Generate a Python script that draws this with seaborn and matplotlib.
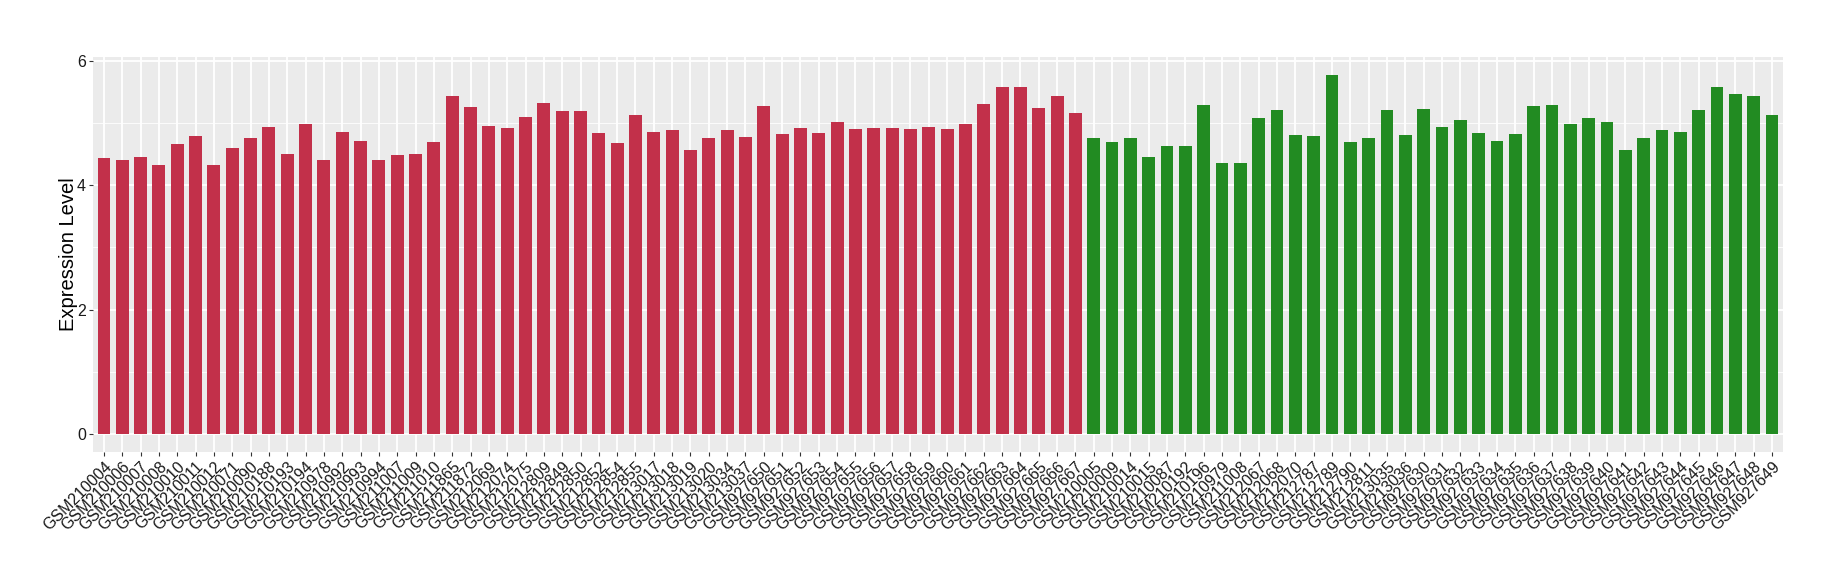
import numpy as np
import pandas as pd
import matplotlib
matplotlib.use("Agg")
import matplotlib.pyplot as plt
import seaborn as sns

# DATA
red_samples = [
    "GSM210004", "GSM210006", "GSM210007", "GSM210008", "GSM210010", "GSM210011",
    "GSM210012", "GSM210071", "GSM210090", "GSM210188", "GSM210193", "GSM210194",
    "GSM210978", "GSM210992", "GSM210993", "GSM210994", "GSM211007", "GSM211009",
    "GSM211010", "GSM211865", "GSM211872", "GSM212069", "GSM212074", "GSM212075",
    "GSM212809", "GSM212849", "GSM212850", "GSM212852", "GSM212854", "GSM212855",
    "GSM213017", "GSM213018", "GSM213019", "GSM213020", "GSM213034", "GSM213037",
    "GSM927650", "GSM927651", "GSM927652", "GSM927653", "GSM927654", "GSM927655",
    "GSM927656", "GSM927657", "GSM927658", "GSM927659", "GSM927660", "GSM927661",
    "GSM927662", "GSM927663", "GSM927664", "GSM927665", "GSM927666", "GSM927667",
]
red_values = [
    4.44, 4.41, 4.46, 4.33, 4.66, 4.79, 4.33, 4.60, 4.75, 4.94, 4.50, 4.99,
    4.41, 4.86, 4.71, 4.41, 4.49, 4.50, 4.69, 5.44, 5.26, 4.95, 4.92, 5.10,
    5.32, 5.20, 5.20, 4.84, 4.68, 5.13, 4.86, 4.89, 4.57, 4.75, 4.89, 4.78,
    5.28, 4.83, 4.92, 4.84, 5.02, 4.91, 4.92, 4.92, 4.91, 4.94, 4.91, 4.99,
    5.31, 5.58, 5.58, 5.24, 5.44, 5.16,
]
green_samples = [
    "GSM210005", "GSM210009", "GSM210014", "GSM210015", "GSM210087", "GSM210192",
    "GSM210196", "GSM210979", "GSM211008", "GSM212067", "GSM212068", "GSM212070",
    "GSM212787", "GSM212789", "GSM212790", "GSM212811", "GSM213035", "GSM213036",
    "GSM927630", "GSM927631", "GSM927632", "GSM927633", "GSM927634", "GSM927635",
    "GSM927636", "GSM927637", "GSM927638", "GSM927639", "GSM927640", "GSM927641",
    "GSM927642", "GSM927643", "GSM927644", "GSM927645", "GSM927646", "GSM927647",
    "GSM927648", "GSM927649",
]
green_values = [
    4.75, 4.70, 4.75, 4.46, 4.63, 4.63, 5.29, 4.36, 4.36, 5.08, 5.21, 4.81,
    4.79, 5.77, 4.70, 4.75, 5.21, 4.81, 5.22, 4.94, 5.04, 4.84, 4.71, 4.83,
    5.28, 5.29, 4.99, 5.08, 5.02, 4.57, 4.76, 4.88, 4.86, 5.21, 5.58, 5.47,
    5.44, 5.13,
]
y_ticks = [0, 2, 4, 6]

df = pd.DataFrame({
    "sample": red_samples + green_samples,
    "value": red_values + green_values,
    "group": ["A"] * len(red_samples) + ["B"] * len(green_samples),
})

# PLOT
plt.rcParams["font.family"] = ["Liberation Sans", "DejaVu Sans"]

fig = plt.figure(figsize=(18.4, 5.8), dpi=100)
ax = fig.add_axes([0.0505, 0.2207, 0.9185, 0.681])
ax.set_facecolor("#EBEBEB")

sns.barplot(
    data=df,
    x="sample",
    y="value",
    hue="group",
    palette={"A": "#C2304A", "B": "#228B22"},
    width=0.7,
    dodge=False,
    legend=False,
    saturation=1,
    ax=ax,
)

n = len(df)
ax.set_xlim(-0.6, n - 1 + 0.6)
ax.set_ylim(-0.29, 6.06)
ax.set_yticks(y_ticks)
ax.set_yticks([1, 3, 5], minor=True)
ax.grid(which="major", color="white", linewidth=1.3)
ax.grid(which="minor", axis="y", color="white", linewidth=0.6)
ax.set_axisbelow(True)
for s in ax.spines.values():
    s.set_visible(False)

ax.tick_params(axis="both", which="major", colors="#333333", length=3, width=0.8,
               labelsize=11.5, labelcolor="#1a1a1a", pad=2)
ax.tick_params(axis="y", which="minor", length=0)
plt.setp(ax.get_xticklabels(), rotation=45, ha="right", rotation_mode="anchor")

ax.set_xlabel("")
ax.set_ylabel("Expression Level", fontsize=14.5, color="black", labelpad=-1)

fig.savefig("out.png", dpi=100)
